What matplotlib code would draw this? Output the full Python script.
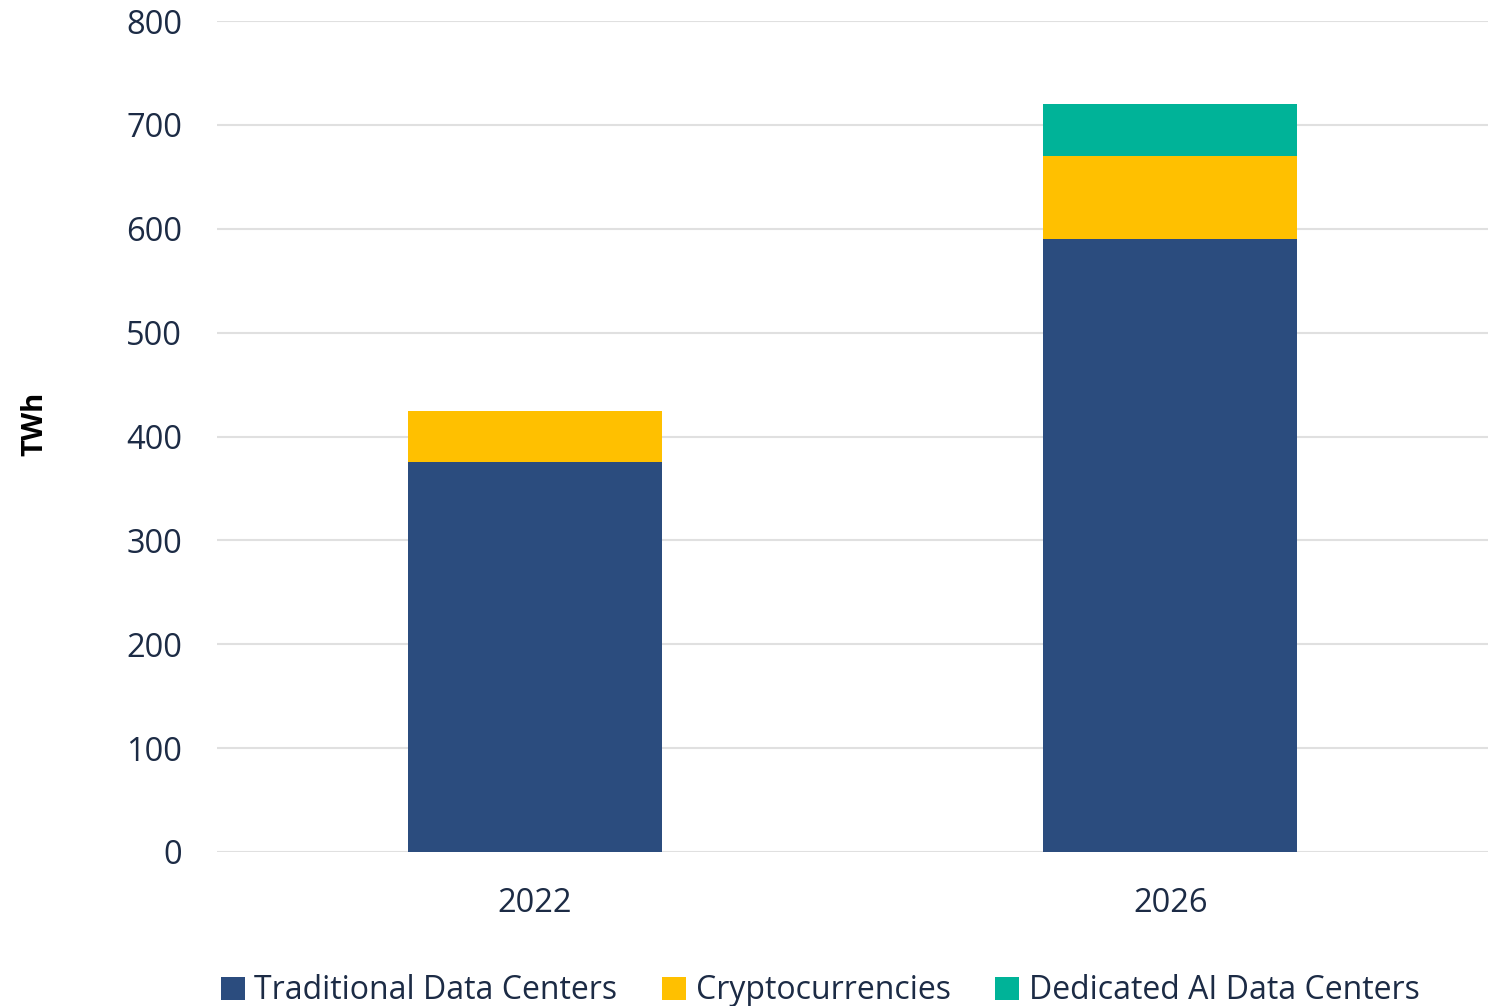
import matplotlib.pyplot as plt
import numpy as np

# -----------------------------
# Data (TWh)
# -----------------------------
years = ["2022", "2026"]
traditional = [375, 590]
crypto = [50, 80]
dedicated_ai = [0, 50]

series_names = ["Traditional Data Centers", "Cryptocurrencies", "Dedicated AI Data Centers"]
colors = ["#2B4C7E", "#FFC000", "#00B398"]
text_color = "#1C2B45"

plt.rcParams['font.family'] = ['Open Sans', 'DejaVu Sans']

fig = plt.figure(figsize=(14.94, 10.06), dpi=100)
ax = fig.add_axes([217 / 1494, 1 - 852 / 1006, (1488 - 217) / 1494, (852 - 21) / 1006])

x = np.arange(len(years))
width = 0.4
bottom = np.zeros(len(years))
for vals, name, c in zip([traditional, crypto, dedicated_ai], series_names, colors):
    ax.bar(x, vals, width, bottom=bottom, color=c, label=name, zorder=3)
    bottom += np.array(vals)

ax.set_xlim(-0.5, 1.5)
ax.set_ylim(0, 800)
ax.set_yticks(range(0, 801, 100))
ax.set_xticks(x)
ax.set_xticklabels(years)
ax.tick_params(axis='both', length=0, labelsize=23.5, colors=text_color)
ax.tick_params(axis='y', pad=25)
ax.tick_params(axis='x', pad=25)
ax.grid(axis='y', color='#E0E0E0', linewidth=1.5, zorder=0)
for s in ax.spines.values():
    s.set_visible(False)

ax.set_ylabel("TWh", fontsize=21, fontweight='bold', color='black')
ax.yaxis.set_label_coords(-0.132, 0.515)

leg = fig.legend(loc='lower center', bbox_to_anchor=(0.549, -0.03), ncol=3, frameon=False,
                 fontsize=23, handlelength=0.75, handleheight=0.75, handletextpad=0.3,
                 columnspacing=1.4, labelcolor=text_color)

fig.savefig("out.png", dpi=100)
